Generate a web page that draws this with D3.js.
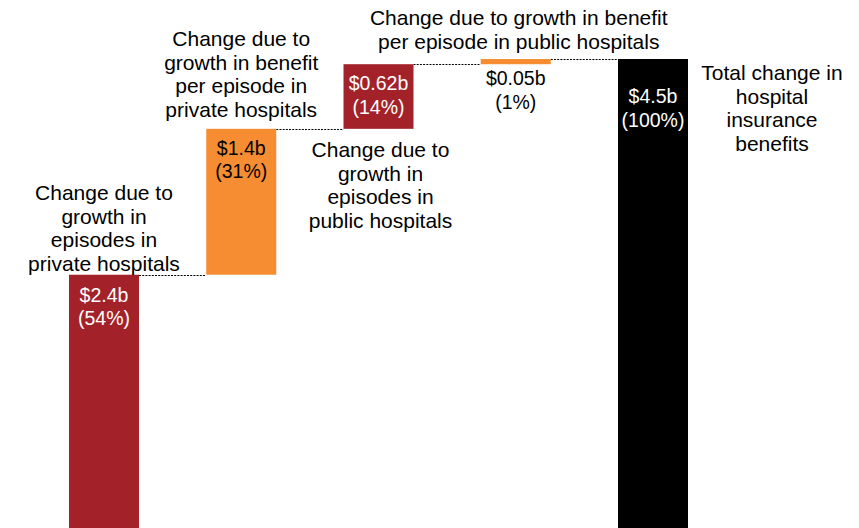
<!DOCTYPE html>
<html>
<head>
<meta charset="utf-8">
<script src="https://cdn.jsdelivr.net/npm/d3@7"></script>
<style>
  html, body { margin: 0; padding: 0; background: #fff; }
  svg { display: block; font-family: "Liberation Sans", Arial, sans-serif; }
</style>
</head>
<body>
<svg id="chart" width="859" height="528"></svg>
<script>
// ---- Data ----
const categories = [
  "Change due to growth in episodes in private hospitals",
  "Change due to growth in benefit per episode in private hospitals",
  "Change due to growth in episodes in public hospitals",
  "Change due to growth in benefit per episode in public hospitals",
  "Total change in hospital insurance benefits"
];
const categoryLines = [
  ["Change due to", "growth in", "episodes in", "private hospitals"],
  ["Change due to", "growth in benefit", "per episode in", "private hospitals"],
  ["Change due to", "growth in", "episodes in", "public hospitals"],
  ["Change due to growth in benefit", "per episode in public hospitals"],
  ["Total change in", "hospital", "insurance", "benefits"]
];
const values = [2.43, 1.40, 0.62, 0.05, 4.5];   // $ billions
const isTotal = [false, false, false, false, true];
const valueLabels = ["$2.4b", "$1.4b", "$0.62b", "$0.05b", "$4.5b"];
const shareLabels = ["(54%)", "(31%)", "(14%)", "(1%)", "(100%)"];
const yDomain = [0, 4.5];

// ---- Layout / style (not data) ----
const colors = ["#A32229", "#F68D33", "#A32229", "#F68D33", "#000000"];
const valueTextColor = ["#fff", "#000", "#fff", "#000", "#fff"];

const svg = d3.select("#chart");

const x = d3.scaleBand()
  .domain(d3.range(categories.length))
  .range([69, 688])
  .paddingInner(0.49)
  .paddingOuter(0);

const y = d3.scaleLinear().domain(yDomain).range([528, 59]);

// waterfall computation
let running = 0;
const bars = values.map((v, i) => {
  let start, end;
  if (isTotal[i]) { start = 0; end = v; running = v; }
  else { start = running; end = running + v; running = end; }
  return { i, start, end };
});

// connectors
const conn = svg.append("g");
for (let i = 0; i < bars.length - 1; i++) {
  const lvl = bars[i].end;
  conn.append("line")
    .attr("x1", x(i) + x.bandwidth())
    .attr("x2", x(i + 1))
    .attr("y1", Math.round(y(lvl)) + 0.5)
    .attr("y2", Math.round(y(lvl)) + 0.5)
    .attr("stroke", "#000")
    .attr("stroke-width", 1)
    .attr("stroke-dasharray", "2,1.2");
}

// bars
svg.append("g").selectAll("rect")
  .data(bars)
  .join("rect")
  .attr("x", d => x(d.i))
  .attr("width", x.bandwidth())
  .attr("y", d => y(d.end))
  .attr("height", d => y(d.start) - y(d.end))
  .attr("fill", d => colors[d.i]);

// value labels
const valueFont = 19.5, valueLH = 23.5;
const valueOffset = [27, 26, 26, 26, 44];
const vg = svg.append("g")
  .attr("text-anchor", "middle")
  .style("font-size", valueFont + "px");
bars.forEach(d => {
  const cx = x(d.i) + x.bandwidth() / 2;
  const top = y(d.end);
  const t = vg.append("text").attr("fill", valueTextColor[d.i]);
  t.append("tspan").attr("x", cx).attr("y", top + valueOffset[d.i]).text(valueLabels[d.i]);
  t.append("tspan").attr("x", cx).attr("y", top + valueOffset[d.i] + valueLH).text(shareLabels[d.i]);
});

// category annotations
const annFont = 21, annLH = 23.5;
const annPlace = [
  { cx: () => x(0) + x.bandwidth() / 2, y0: 200 },
  { cx: () => x(1) + x.bandwidth() / 2, y0: 46 },
  { cx: () => x(2) + x.bandwidth() / 2 + 2, y0: 157 },
  { cx: () => x(3) + x.bandwidth() / 2 + 3, y0: 25 },
  { cx: () => x(4) + x.bandwidth() + 84, y0: 80 }
];
const ag = svg.append("g")
  .attr("text-anchor", "middle")
  .attr("fill", "#000")
  .style("font-size", annFont + "px");
categoryLines.forEach((lines, i) => {
  const t = ag.append("text");
  lines.forEach((ln, j) => {
    t.append("tspan")
      .attr("x", annPlace[i].cx())
      .attr("y", annPlace[i].y0 + j * annLH)
      .text(ln);
  });
});
</script>
</body>
</html>
